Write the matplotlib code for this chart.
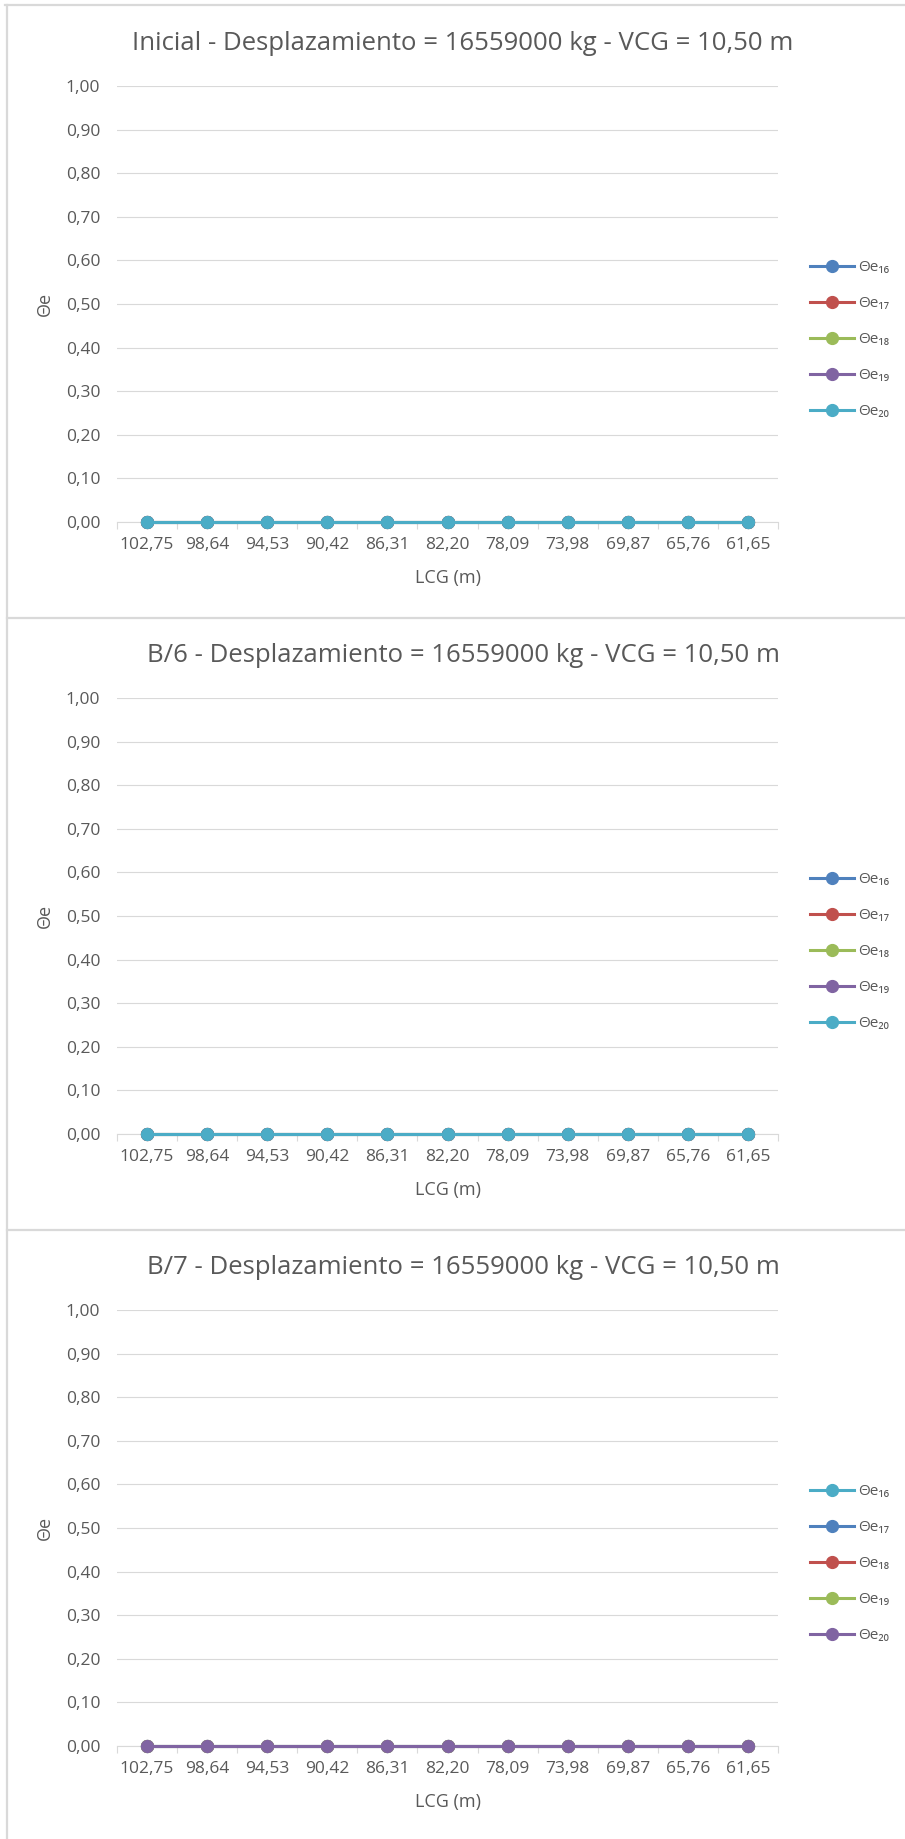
import numpy as np
import matplotlib.pyplot as plt
from matplotlib.lines import Line2D

plt.rcParams['font.family'] = ['Open Sans', 'DejaVu Sans']

# categories on the x axis (LCG, m), shown as in the sheet
lcg_labels = ['102,75', '98,64', '94,53', '90,42', '86,31', '82,20',
              '78,09', '73,98', '69,87', '65,76', '61,65']

# theta_e values per series (all read as 0,00)
theta_e16 = [0.00, 0.00, 0.00, 0.00, 0.00, 0.00, 0.00, 0.00, 0.00, 0.00, 0.00]
theta_e17 = [0.00, 0.00, 0.00, 0.00, 0.00, 0.00, 0.00, 0.00, 0.00, 0.00, 0.00]
theta_e18 = [0.00, 0.00, 0.00, 0.00, 0.00, 0.00, 0.00, 0.00, 0.00, 0.00, 0.00]
theta_e19 = [0.00, 0.00, 0.00, 0.00, 0.00, 0.00, 0.00, 0.00, 0.00, 0.00, 0.00]
theta_e20 = [0.00, 0.00, 0.00, 0.00, 0.00, 0.00, 0.00, 0.00, 0.00, 0.00, 0.00]

series_names = ['Θe₁₆', 'Θe₁₇', 'Θe₁₈', 'Θe₁₉', 'Θe₂₀']
series_values = [theta_e16, theta_e17, theta_e18, theta_e19, theta_e20]

titles = ['Inicial - Desplazamiento = 16559000 kg - VCG = 10,50 m',
          'B/6 - Desplazamiento = 16559000 kg - VCG = 10,50 m',
          'B/7 - Desplazamiento = 16559000 kg - VCG = 10,50 m']

yticks = [0.0, 0.1, 0.2, 0.3, 0.4, 0.5, 0.6, 0.7, 0.8, 0.9, 1.0]
ytick_labels = ['0,00', '0,10', '0,20', '0,30', '0,40', '0,50',
                '0,60', '0,70', '0,80', '0,90', '1,00']

BLUE, RED, GREEN, PURPLE, AQUA = '#4F81BD', '#C0504D', '#9BBB59', '#8064A2', '#4BACC6'
panel_colors = [[BLUE, RED, GREEN, PURPLE, AQUA],
                [BLUE, RED, GREEN, PURPLE, AQUA],
                [AQUA, BLUE, RED, GREEN, PURPLE]]

GRID = '#D9D9D9'
TXT = '#595959'

W, H = 905, 1839
fig = plt.figure(figsize=(W / 100, H / 100), dpi=100)


def fx(px):
    return px / W


def fy(py):
    return 1 - py / H


# outer borders of the stacked chart objects
for seg in [((5, 5), (W, 5)), ((7, 5), (7, H)), ((7, 618), (W, 618)), ((7, 1230), (W, 1230))]:
    (x0, y0), (x1, y1) = seg
    fig.add_artist(Line2D([fx(x0), fx(x1)], [fy(y0), fy(y1)], color=GRID, lw=1.6))

x = np.arange(len(lcg_labels))
panel_h = 612

for k in range(3):
    off = k * panel_h
    top, bottom, left, right = 86 + off, 522 + off, 117, 778
    ax = fig.add_axes([fx(left), fy(bottom), fx(right - left), (bottom - top) / H])

    for name, vals, col in zip(series_names, series_values, panel_colors[k]):
        ax.plot(x, vals, '-', color=col, lw=2.2, marker='o', markersize=8.5,
                label=name, clip_on=False, zorder=3)

    ax.set_xlim(-0.5, len(lcg_labels) - 0.5)
    ax.set_ylim(0, 1)
    ax.set_yticks(yticks)
    ax.set_yticklabels(ytick_labels)
    ax.set_xticks(x)
    ax.set_xticklabels(lcg_labels)
    ax.set_xticks(np.arange(-0.5, len(lcg_labels), 1.0), minor=True)
    ax.tick_params(axis='x', which='major', length=0, pad=11, labelsize=12.5, labelcolor=TXT)
    ax.tick_params(axis='x', which='minor', length=5, width=0.8, color=GRID, direction='out')
    ax.tick_params(axis='y', length=0, pad=12, labelsize=12.5, labelcolor=TXT)
    ax.grid(axis='y', color=GRID, lw=0.8)
    ax.set_axisbelow(True)
    for s in ['top', 'right', 'left']:
        ax.spines[s].set_visible(False)
    ax.spines['bottom'].set_color(GRID)
    ax.spines['bottom'].set_linewidth(0.8)

    fig.text(fx(463), fy(43 + off), titles[k], ha='center', va='center', fontsize=18.5, color=TXT)
    fig.text(fx(448), fy(578 + off), 'LCG (m)', ha='center', va='center', fontsize=13, color=TXT)
    fig.text(fx(45), fy(304 + off), 'Θe', ha='center', va='center', rotation=90, fontsize=13, color=TXT)

    ax.legend(loc='center left', bbox_to_anchor=(fx(810), fy(339.5 + off)),
              bbox_transform=fig.transFigure, frameon=False, fontsize=11,
              handlelength=2.9, handletextpad=0.25, labelspacing=1.37, borderpad=0,
              borderaxespad=0, labelcolor=TXT)

fig.savefig('out.png', dpi=100, facecolor='white')
